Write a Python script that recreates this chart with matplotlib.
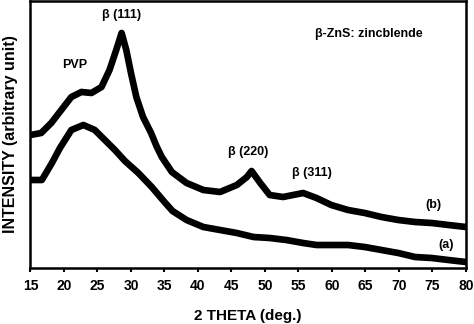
import matplotlib
matplotlib.use("Agg")
import matplotlib.pyplot as plt

plt.rcParams['font.family'] = ['Liberation Sans', 'DejaVu Sans']
plt.rcParams['font.weight'] = 'bold'

# 2-theta positions (deg.) and intensities (arbitrary units)
theta_b = [15.0, 16.6, 18.1, 19.6, 21.1, 22.6, 24.1, 25.6, 26.8, 27.8, 28.6, 29.3,
           30.0, 30.8, 31.8, 33.0, 33.8, 34.6, 36.1, 38.3, 40.8, 43.3, 45.8, 47.3,
           48.0, 49.3, 50.7, 52.7, 55.7, 57.7, 59.9, 62.4, 64.9, 67.4, 69.9, 72.4,
           74.9, 77.4, 80.0]
int_b = [133, 135, 145, 158, 171, 176, 175, 181, 198, 218, 235, 218,
         195, 171, 151, 135, 122, 111, 96, 85, 78, 76, 83, 91,
         97, 85, 73, 71, 75, 70, 63, 58, 55, 51, 48, 46,
         45, 43, 41]

theta_a = [15.0, 16.7, 18.2, 19.4, 21.1, 22.9, 24.6, 26.1, 27.6, 29.1, 31.1,
           33.1, 35.0, 36.2, 38.3, 40.8, 43.3, 45.8, 48.3, 50.7, 53.2, 55.7, 57.7,
           59.9, 62.4, 64.9, 67.4, 69.9, 72.4, 74.9, 77.4, 80.0]
int_a = [88, 88, 105, 120, 138, 143, 138, 128, 118, 107, 95,
         81, 66, 57, 48, 41, 38, 35, 31, 30, 28, 25, 23,
         23, 23, 21, 18, 15, 11, 10, 8, 6]

x_ticks = [15, 20, 25, 30, 35, 40, 45, 50, 55, 60, 65, 70, 75, 80]

fig = plt.figure(figsize=(4.74, 3.24), dpi=100)
ax = fig.add_axes([0.0643, 0.1728, 0.9187, 0.8242])

ax.plot(theta_b, int_b, color='black', lw=4.8, solid_joinstyle='round')
ax.plot(theta_a, int_a, color='black', lw=4.8, solid_joinstyle='round')

ax.set_xlim(15, 80)
ax.set_ylim(0, 267)
ax.set_xticks(x_ticks)
ax.set_yticks([])
ax.tick_params(axis='x', direction='out', length=3, width=1.5, labelsize=10, pad=5)
for lbl in ax.get_xticklabels():
    lbl.set_fontweight('bold')
for sp in ax.spines.values():
    sp.set_linewidth(1.8)

ax.set_xlabel('2 THETA (deg.)', fontsize=11, fontweight='bold', va='center')
ax.xaxis.set_label_coords(0.5, -0.18)
ax.set_ylabel('INTENSITY (arbitrary unit)', fontsize=11.5, fontweight='bold', va='center')
ax.yaxis.set_label_coords(-0.045, 0.5)

fs = 9
ax.text(28.6, 253, 'β (111)', fontsize=fs, fontweight='bold', ha='center', va='center')
ax.text(21.6, 203, 'PVP', fontsize=fs, fontweight='bold', ha='center', va='center')
ax.text(65.5, 234, 'β-ZnS: zincblende', fontsize=fs, fontweight='bold', ha='center', va='center')
ax.text(47.5, 116, 'β (220)', fontsize=fs, fontweight='bold', ha='center', va='center')
ax.text(57.0, 95, 'β (311)', fontsize=fs, fontweight='bold', ha='center', va='center')
ax.text(75.1, 63, '(b)', fontsize=fs, fontweight='bold', ha='center', va='center')
ax.text(77.0, 23, '(a)', fontsize=fs, fontweight='bold', ha='center', va='center')

fig.savefig('out.png', dpi=100)
